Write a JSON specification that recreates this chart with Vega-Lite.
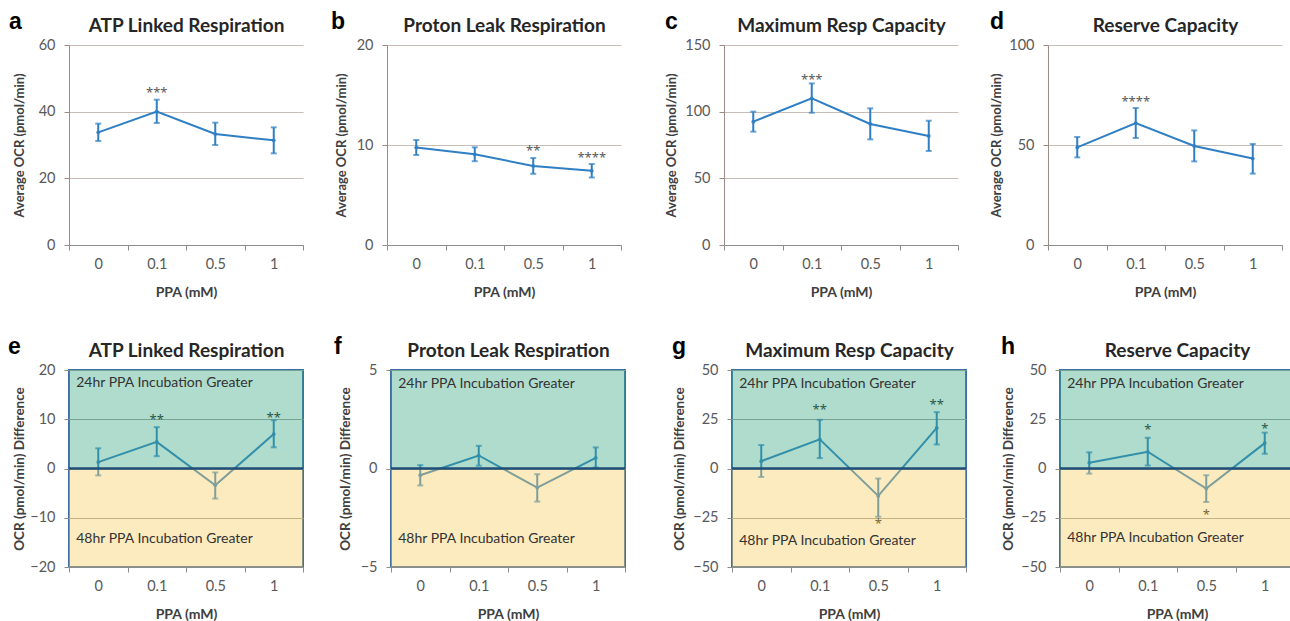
{
"$schema": "https://vega.github.io/schema/vega-lite/v6.json",
"padding": {"left": 7, "top": 11, "right": 0, "bottom": 0},
"background": "white",
"config": {
 "font": "Lato",
 "view": {"stroke": null},
 "title": {"font": "Liberation Sans", "fontSize": 23, "fontWeight": "bold", "color": "#000000"},
 "axis": {"labelFont": "Lato", "titleFont": "Lato", "labelFontSize": 14.5, "labelColor": "#595959", "titleFontSize": 13, "titleFontWeight": "bold", "titleColor": "#404040", "tickColor": "#8c8c8c", "domainColor": "#8c8c8c", "tickSize": 5},
 "axisY": {"labelPadding": 9, "titlePadding": 14, "gridColor": "#c9bdb7"},
 "axisX": {"labelAngle": 0, "grid": false}
},
"datasets": {
 "a": [{"ppa":"0","mean":33.8,"lo":31.2,"hi":36.4},{"ppa":"0.1","mean":40.0,"lo":36.6,"hi":43.6,"sig":"***","sigY":46.5},{"ppa":"0.5","mean":33.3,"lo":30.0,"hi":36.7},{"ppa":"1","mean":31.4,"lo":27.5,"hi":35.3}],
 "b": [{"ppa":"0","mean":9.75,"lo":9.0,"hi":10.5},{"ppa":"0.1","mean":9.07,"lo":8.38,"hi":9.77},{"ppa":"0.5","mean":7.9,"lo":7.12,"hi":8.7,"sig":"**","sigY":9.67},{"ppa":"1","mean":7.42,"lo":6.75,"hi":8.1,"sig":"****","sigY":9.0}],
 "c": [{"ppa":"0","mean":92.5,"lo":85,"hi":100},{"ppa":"0.1","mean":110,"lo":99.2,"hi":121.2,"sig":"***","sigY":125.8},{"ppa":"0.5","mean":90.8,"lo":79.2,"hi":102.5},{"ppa":"1","mean":81.8,"lo":70.5,"hi":93.2}],
 "d": [{"ppa":"0","mean":48.8,"lo":43.8,"hi":54},{"ppa":"0.1","mean":61,"lo":53.5,"hi":68.5,"sig":"****","sigY":72.8},{"ppa":"0.5","mean":49.5,"lo":41.8,"hi":57.3},{"ppa":"1","mean":43.2,"lo":35.7,"hi":50.5}],
 "e": [{"ppa":"0","mean":1.3,"lo":-1.4,"hi":4.1},{"ppa":"0.1","mean":5.4,"lo":2.5,"hi":8.4,"sig":"**","sigY":10.4},{"ppa":"0.5","mean":-3.4,"lo":-6.1,"hi":-0.8},{"ppa":"1","mean":7.0,"lo":4.3,"hi":9.8,"sig":"**","sigY":10.9}],
 "f": [{"ppa":"0","mean":-0.34,"lo":-0.86,"hi":0.17},{"ppa":"0.1","mean":0.66,"lo":0.14,"hi":1.15},{"ppa":"0.5","mean":-0.97,"lo":-1.68,"hi":-0.29},{"ppa":"1","mean":0.54,"lo":0.05,"hi":1.07}],
 "g": [{"ppa":"0","mean":3.7,"lo":-4.3,"hi":11.9},{"ppa":"0.1","mean":14.8,"lo":5.3,"hi":24.7,"sig":"**","sigY":31.1},{"ppa":"0.5","mean":-13.9,"lo":-24.5,"hi":-5.1,"sig":"*","sigY":-26.6},{"ppa":"1","mean":20.6,"lo":12.2,"hi":28.6,"sig":"**","sigY":33.7}],
 "h": [{"ppa":"0","mean":2.9,"lo":-2.6,"hi":8.2},{"ppa":"0.1","mean":8.5,"lo":1.5,"hi":15.6,"sig":"*","sigY":20.9},{"ppa":"0.5","mean":-10.2,"lo":-17,"hi":-3.4,"sig":"*","sigY":-22},{"ppa":"1","mean":12.9,"lo":7.5,"hi":18.2,"sig":"*","sigY":21.4}]
},
"spacing": 35,
"vconcat": [
{"spacing": 43, "hconcat": [
{"spacing": 27, "hconcat": [
 {"width": 234, "height": 200, "data": {"name": "a"},
  "title": {"text": "a", "anchor": "start", "frame": "bounds", "offset": -18, "dx": -4},
  "resolve": {"axis": {"x": "independent"}},
  "layer": [
   {"mark": {"type": "rule", "color": "#2f7fc4", "strokeWidth": 2},
    "encoding": {
     "x": {"field": "ppa", "type": "ordinal", "bandPosition": 0.5, "scale": {"type": "band", "domain": ["0","0.1","0.5","1"], "paddingInner": 0, "paddingOuter": 0}, "axis": {"orient": "top", "title": "ATP Linked Respiration", "labels": false, "ticks": false, "domain": false, "grid": false, "titleFontSize": 19, "titleFontWeight": "bold", "titleColor": "#262626", "titlePadding": 10}},
     "y": {"field": "lo", "type": "quantitative", "title": "Average OCR (pmol/min)", "scale": {"domain": [0,60], "nice": false, "zero": false}, "axis": {"values": [0,20,40,60], "minExtent": 29, "maxExtent": 29, "grid": true, "domainColor": "#9c8a84", "tickColor": "#9c8a84"}},
     "y2": {"field": "hi"}}},
   {"mark": {"type": "tick", "color": "#2f7fc4", "size": 6, "thickness": 2}, "encoding": {"x": {"field": "ppa", "type": "ordinal", "axis": null}, "y": {"field": "lo", "type": "quantitative", "title": "Average OCR (pmol/min)"}}},
   {"mark": {"type": "tick", "color": "#2f7fc4", "size": 6, "thickness": 2}, "encoding": {"x": {"field": "ppa", "type": "ordinal", "axis": null}, "y": {"field": "hi", "type": "quantitative", "title": "Average OCR (pmol/min)"}}},
   {"mark": {"type": "line", "color": "#2f7fc4", "strokeWidth": 2, "point": {"filled": true, "size": 14, "color": "#2f7fc4"}},
    "encoding": {"x": {"field": "ppa", "type": "ordinal", "bandPosition": 0.5, "axis": {"title": "PPA (mM)", "tickBand": "extent", "labelPadding": 7, "titlePadding": 15, "titleFontSize": 14}}, "y": {"field": "mean", "type": "quantitative", "title": "Average OCR (pmol/min)"}}},
   {"transform": [{"filter": "datum.sig"}], "mark": {"type": "text", "font": "Noto Sans", "fontSize": 13, "color": "#595959", "baseline": "middle", "dy": 3},
    "encoding": {"x": {"field": "ppa", "type": "ordinal", "bandPosition": 0.5, "axis": null}, "y": {"field": "sigY", "type": "quantitative", "title": "Average OCR (pmol/min)"}, "text": {"field": "sig"}}}
  ]},
 {"width": 234, "height": 200, "data": {"name": "b"},
  "title": {"text": "b", "anchor": "start", "frame": "bounds", "offset": -18, "dx": -4},
  "resolve": {"axis": {"x": "independent"}},
  "layer": [
   {"mark": {"type": "rule", "color": "#2f7fc4", "strokeWidth": 2},
    "encoding": {
     "x": {"field": "ppa", "type": "ordinal", "bandPosition": 0.5, "scale": {"type": "band", "domain": ["0","0.1","0.5","1"], "paddingInner": 0, "paddingOuter": 0}, "axis": {"orient": "top", "title": "Proton Leak Respiration", "labels": false, "ticks": false, "domain": false, "grid": false, "titleFontSize": 19, "titleFontWeight": "bold", "titleColor": "#262626", "titlePadding": 10}},
     "y": {"field": "lo", "type": "quantitative", "title": "Average OCR (pmol/min)", "scale": {"domain": [0,20], "nice": false, "zero": false}, "axis": {"values": [0,10,20], "minExtent": 25, "maxExtent": 25, "grid": true, "domainColor": "#9c8a84", "tickColor": "#9c8a84"}},
     "y2": {"field": "hi"}}},
   {"mark": {"type": "tick", "color": "#2f7fc4", "size": 6, "thickness": 2}, "encoding": {"x": {"field": "ppa", "type": "ordinal", "axis": null}, "y": {"field": "lo", "type": "quantitative", "title": "Average OCR (pmol/min)"}}},
   {"mark": {"type": "tick", "color": "#2f7fc4", "size": 6, "thickness": 2}, "encoding": {"x": {"field": "ppa", "type": "ordinal", "axis": null}, "y": {"field": "hi", "type": "quantitative", "title": "Average OCR (pmol/min)"}}},
   {"mark": {"type": "line", "color": "#2f7fc4", "strokeWidth": 2, "point": {"filled": true, "size": 14, "color": "#2f7fc4"}},
    "encoding": {"x": {"field": "ppa", "type": "ordinal", "bandPosition": 0.5, "axis": {"title": "PPA (mM)", "tickBand": "extent", "labelPadding": 7, "titlePadding": 15, "titleFontSize": 14}}, "y": {"field": "mean", "type": "quantitative", "title": "Average OCR (pmol/min)"}}},
   {"transform": [{"filter": "datum.sig"}], "mark": {"type": "text", "font": "Noto Sans", "fontSize": 13, "color": "#595959", "baseline": "middle", "dy": 3},
    "encoding": {"x": {"field": "ppa", "type": "ordinal", "bandPosition": 0.5, "axis": null}, "y": {"field": "sigY", "type": "quantitative", "title": "Average OCR (pmol/min)"}, "text": {"field": "sig"}}}
  ]}
]},
{"spacing": 31, "hconcat": [
 {"width": 234, "height": 200, "data": {"name": "c"},
  "title": {"text": "c", "anchor": "start", "frame": "bounds", "offset": -18},
  "resolve": {"axis": {"x": "independent"}},
  "layer": [
   {"mark": {"type": "rule", "color": "#2f7fc4", "strokeWidth": 2},
    "encoding": {
     "x": {"field": "ppa", "type": "ordinal", "bandPosition": 0.5, "scale": {"type": "band", "domain": ["0","0.1","0.5","1"], "paddingInner": 0, "paddingOuter": 0}, "axis": {"orient": "top", "title": "Maximum Resp Capacity", "labels": false, "ticks": false, "domain": false, "grid": false, "titleFontSize": 19, "titleFontWeight": "bold", "titleColor": "#262626", "titlePadding": 10}},
     "y": {"field": "lo", "type": "quantitative", "title": "Average OCR (pmol/min)", "scale": {"domain": [0,150], "nice": false, "zero": false}, "axis": {"values": [0,50,100,150], "minExtent": 32, "maxExtent": 32, "grid": true, "domainColor": "#9c8a84", "tickColor": "#9c8a84"}},
     "y2": {"field": "hi"}}},
   {"mark": {"type": "tick", "color": "#2f7fc4", "size": 6, "thickness": 2}, "encoding": {"x": {"field": "ppa", "type": "ordinal", "axis": null}, "y": {"field": "lo", "type": "quantitative", "title": "Average OCR (pmol/min)"}}},
   {"mark": {"type": "tick", "color": "#2f7fc4", "size": 6, "thickness": 2}, "encoding": {"x": {"field": "ppa", "type": "ordinal", "axis": null}, "y": {"field": "hi", "type": "quantitative", "title": "Average OCR (pmol/min)"}}},
   {"mark": {"type": "line", "color": "#2f7fc4", "strokeWidth": 2, "point": {"filled": true, "size": 14, "color": "#2f7fc4"}},
    "encoding": {"x": {"field": "ppa", "type": "ordinal", "bandPosition": 0.5, "axis": {"title": "PPA (mM)", "tickBand": "extent", "labelPadding": 7, "titlePadding": 15, "titleFontSize": 14}}, "y": {"field": "mean", "type": "quantitative", "title": "Average OCR (pmol/min)"}}},
   {"transform": [{"filter": "datum.sig"}], "mark": {"type": "text", "font": "Noto Sans", "fontSize": 13, "color": "#595959", "baseline": "middle", "dy": 3},
    "encoding": {"x": {"field": "ppa", "type": "ordinal", "bandPosition": 0.5, "axis": null}, "y": {"field": "sigY", "type": "quantitative", "title": "Average OCR (pmol/min)"}, "text": {"field": "sig"}}}
  ]},
 {"width": 234, "height": 200, "data": {"name": "d"},
  "title": {"text": "d", "anchor": "start", "frame": "bounds", "offset": -18},
  "resolve": {"axis": {"x": "independent"}},
  "layer": [
   {"mark": {"type": "rule", "color": "#2f7fc4", "strokeWidth": 2},
    "encoding": {
     "x": {"field": "ppa", "type": "ordinal", "bandPosition": 0.5, "scale": {"type": "band", "domain": ["0","0.1","0.5","1"], "paddingInner": 0, "paddingOuter": 0}, "axis": {"orient": "top", "title": "Reserve Capacity", "labels": false, "ticks": false, "domain": false, "grid": false, "titleFontSize": 19, "titleFontWeight": "bold", "titleColor": "#262626", "titlePadding": 10}},
     "y": {"field": "lo", "type": "quantitative", "title": "Average OCR (pmol/min)", "scale": {"domain": [0,100], "nice": false, "zero": false}, "axis": {"values": [0,50,100], "minExtent": 31, "maxExtent": 31, "grid": true, "domainColor": "#9c8a84", "tickColor": "#9c8a84"}},
     "y2": {"field": "hi"}}},
   {"mark": {"type": "tick", "color": "#2f7fc4", "size": 6, "thickness": 2}, "encoding": {"x": {"field": "ppa", "type": "ordinal", "axis": null}, "y": {"field": "lo", "type": "quantitative", "title": "Average OCR (pmol/min)"}}},
   {"mark": {"type": "tick", "color": "#2f7fc4", "size": 6, "thickness": 2}, "encoding": {"x": {"field": "ppa", "type": "ordinal", "axis": null}, "y": {"field": "hi", "type": "quantitative", "title": "Average OCR (pmol/min)"}}},
   {"mark": {"type": "line", "color": "#2f7fc4", "strokeWidth": 2, "point": {"filled": true, "size": 14, "color": "#2f7fc4"}},
    "encoding": {"x": {"field": "ppa", "type": "ordinal", "bandPosition": 0.5, "axis": {"title": "PPA (mM)", "tickBand": "extent", "labelPadding": 7, "titlePadding": 15, "titleFontSize": 14}}, "y": {"field": "mean", "type": "quantitative", "title": "Average OCR (pmol/min)"}}},
   {"transform": [{"filter": "datum.sig"}], "mark": {"type": "text", "font": "Noto Sans", "fontSize": 13, "color": "#595959", "baseline": "middle", "dy": 3},
    "encoding": {"x": {"field": "ppa", "type": "ordinal", "bandPosition": 0.5, "axis": null}, "y": {"field": "sigY", "type": "quantitative", "title": "Average OCR (pmol/min)"}, "text": {"field": "sig"}}}
  ]}
]}
]},
{"spacing": 43, "hconcat": [
{"spacing": 27, "hconcat": [
 {"width": 234, "height": 197, "data": {"name": "e"},
  "title": {"text": "e", "anchor": "start", "frame": "bounds", "offset": -18, "dx": -4},
  "view": {"stroke": "#3d6fa6", "strokeWidth": 2},
  "resolve": {"axis": {"x": "independent"}},
  "layer": [
   {"mark": {"type": "rule", "color": "#2f7fc4", "strokeWidth": 2},
    "encoding": {
     "x": {"field": "ppa", "type": "ordinal", "bandPosition": 0.5, "scale": {"type": "band", "domain": ["0","0.1","0.5","1"], "paddingInner": 0, "paddingOuter": 0}, "axis": {"orient": "top", "title": "ATP Linked Respiration", "labels": false, "ticks": false, "domain": false, "grid": false, "titleFontSize": 19, "titleFontWeight": "bold", "titleColor": "#262626", "titlePadding": 10}},
     "y": {"field": "lo", "type": "quantitative", "title": "OCR (pmol/min) Difference", "scale": {"domain": [-20,20], "nice": false, "zero": false}, "axis": {"values": [-20,-10,0,10,20], "minExtent": 29, "maxExtent": 29, "grid": true, "gridColor": "#a0a0a0", "domain": false, "titleFontSize": 13.5}},
     "y2": {"field": "hi"}}},
   {"mark": {"type": "tick", "color": "#2f7fc4", "size": 6, "thickness": 2}, "encoding": {"x": {"field": "ppa", "type": "ordinal", "axis": null}, "y": {"field": "lo", "type": "quantitative", "title": "OCR (pmol/min) Difference"}}},
   {"mark": {"type": "tick", "color": "#2f7fc4", "size": 6, "thickness": 2}, "encoding": {"x": {"field": "ppa", "type": "ordinal", "axis": null}, "y": {"field": "hi", "type": "quantitative", "title": "OCR (pmol/min) Difference"}}},
   {"mark": {"type": "line", "color": "#2f7fc4", "strokeWidth": 2, "point": {"filled": true, "size": 14, "color": "#2f7fc4"}},
    "encoding": {"x": {"field": "ppa", "type": "ordinal", "bandPosition": 0.5, "axis": {"title": "PPA (mM)", "tickBand": "extent", "labelPadding": 7, "titlePadding": 15, "titleFontSize": 14}}, "y": {"field": "mean", "type": "quantitative", "title": "OCR (pmol/min) Difference"}}},
   {"transform": [{"filter": "datum.sig"}], "mark": {"type": "text", "font": "Noto Sans", "fontSize": 13, "color": "#1a1a1a", "baseline": "middle", "dy": 3},
    "encoding": {"x": {"field": "ppa", "type": "ordinal", "bandPosition": 0.5, "axis": null}, "y": {"field": "sigY", "type": "quantitative", "title": "OCR (pmol/min) Difference"}, "text": {"field": "sig"}}},
   {"data": {"values": [{}]}, "mark": {"type": "rect", "color": "#37a782", "opacity": 0.4}, "encoding": {"x": {"value": 0}, "x2": {"value": "width"}, "y": {"datum": 0, "type": "quantitative"}, "y2": {"datum": 20}}},
   {"data": {"values": [{}]}, "mark": {"type": "rect", "color": "#f7cd5c", "opacity": 0.4}, "encoding": {"x": {"value": 0}, "x2": {"value": "width"}, "y": {"datum": -20, "type": "quantitative"}, "y2": {"datum": 0}}},
   {"data": {"values": [{}]}, "mark": {"type": "rule", "color": "#1f4e79", "strokeWidth": 2.5}, "encoding": {"y": {"datum": 0, "type": "quantitative"}}},
   {"data": {"values": [{}]}, "mark": {"type": "text", "align": "left", "baseline": "middle", "fontSize": 14, "color": "#333333", "dx": -22}, "encoding": {"x": {"datum": "0", "type": "ordinal", "bandPosition": 0.5, "axis": null}, "y": {"datum": 17.3, "type": "quantitative"}, "text": {"value": "24hr PPA Incubation Greater"}}},
   {"data": {"values": [{}]}, "mark": {"type": "text", "align": "left", "baseline": "middle", "fontSize": 14, "color": "#333333", "dx": -22}, "encoding": {"x": {"datum": "0", "type": "ordinal", "bandPosition": 0.5, "axis": null}, "y": {"datum": -14.4, "type": "quantitative"}, "text": {"value": "48hr PPA Incubation Greater"}}}
  ]},
 {"width": 234, "height": 197, "data": {"name": "f"},
  "title": {"text": "f", "anchor": "start", "frame": "bounds", "offset": -18, "dx": -4},
  "view": {"stroke": "#3d6fa6", "strokeWidth": 2},
  "resolve": {"axis": {"x": "independent"}},
  "layer": [
   {"mark": {"type": "rule", "color": "#2f7fc4", "strokeWidth": 2},
    "encoding": {
     "x": {"field": "ppa", "type": "ordinal", "bandPosition": 0.5, "scale": {"type": "band", "domain": ["0","0.1","0.5","1"], "paddingInner": 0, "paddingOuter": 0}, "axis": {"orient": "top", "title": "Proton Leak Respiration", "labels": false, "ticks": false, "domain": false, "grid": false, "titleFontSize": 19, "titleFontWeight": "bold", "titleColor": "#262626", "titlePadding": 10}},
     "y": {"field": "lo", "type": "quantitative", "title": "OCR (pmol/min) Difference", "scale": {"domain": [-5,5], "nice": false, "zero": false}, "axis": {"values": [-5,0,5], "minExtent": 25, "maxExtent": 25, "grid": true, "gridColor": "#a0a0a0", "domain": false, "titleFontSize": 13.5}},
     "y2": {"field": "hi"}}},
   {"mark": {"type": "tick", "color": "#2f7fc4", "size": 6, "thickness": 2}, "encoding": {"x": {"field": "ppa", "type": "ordinal", "axis": null}, "y": {"field": "lo", "type": "quantitative", "title": "OCR (pmol/min) Difference"}}},
   {"mark": {"type": "tick", "color": "#2f7fc4", "size": 6, "thickness": 2}, "encoding": {"x": {"field": "ppa", "type": "ordinal", "axis": null}, "y": {"field": "hi", "type": "quantitative", "title": "OCR (pmol/min) Difference"}}},
   {"mark": {"type": "line", "color": "#2f7fc4", "strokeWidth": 2, "point": {"filled": true, "size": 14, "color": "#2f7fc4"}},
    "encoding": {"x": {"field": "ppa", "type": "ordinal", "bandPosition": 0.5, "axis": {"title": "PPA (mM)", "tickBand": "extent", "labelPadding": 7, "titlePadding": 15, "titleFontSize": 14}}, "y": {"field": "mean", "type": "quantitative", "title": "OCR (pmol/min) Difference"}}},
   {"data": {"values": [{}]}, "mark": {"type": "rect", "color": "#37a782", "opacity": 0.4}, "encoding": {"x": {"value": 0}, "x2": {"value": "width"}, "y": {"datum": 0, "type": "quantitative"}, "y2": {"datum": 5}}},
   {"data": {"values": [{}]}, "mark": {"type": "rect", "color": "#f7cd5c", "opacity": 0.4}, "encoding": {"x": {"value": 0}, "x2": {"value": "width"}, "y": {"datum": -5, "type": "quantitative"}, "y2": {"datum": 0}}},
   {"data": {"values": [{}]}, "mark": {"type": "rule", "color": "#1f4e79", "strokeWidth": 2.5}, "encoding": {"y": {"datum": 0, "type": "quantitative"}}},
   {"data": {"values": [{}]}, "mark": {"type": "text", "align": "left", "baseline": "middle", "fontSize": 14, "color": "#333333", "dx": -22}, "encoding": {"x": {"datum": "0", "type": "ordinal", "bandPosition": 0.5, "axis": null}, "y": {"datum": 4.3, "type": "quantitative"}, "text": {"value": "24hr PPA Incubation Greater"}}},
   {"data": {"values": [{}]}, "mark": {"type": "text", "align": "left", "baseline": "middle", "fontSize": 14, "color": "#333333", "dx": -22}, "encoding": {"x": {"datum": "0", "type": "ordinal", "bandPosition": 0.5, "axis": null}, "y": {"datum": -3.56, "type": "quantitative"}, "text": {"value": "48hr PPA Incubation Greater"}}}
  ]}
]},
{"spacing": 31, "hconcat": [
 {"width": 234, "height": 197, "data": {"name": "g"},
  "title": {"text": "g", "anchor": "start", "frame": "bounds", "offset": -18},
  "view": {"stroke": "#3d6fa6", "strokeWidth": 2},
  "resolve": {"axis": {"x": "independent"}},
  "layer": [
   {"mark": {"type": "rule", "color": "#2f7fc4", "strokeWidth": 2},
    "encoding": {
     "x": {"field": "ppa", "type": "ordinal", "bandPosition": 0.5, "scale": {"type": "band", "domain": ["0","0.1","0.5","1"], "paddingInner": 0, "paddingOuter": 0}, "axis": {"orient": "top", "title": "Maximum Resp Capacity", "labels": false, "ticks": false, "domain": false, "grid": false, "titleFontSize": 19, "titleFontWeight": "bold", "titleColor": "#262626", "titlePadding": 10}},
     "y": {"field": "lo", "type": "quantitative", "title": "OCR (pmol/min) Difference", "scale": {"domain": [-50,50], "nice": false, "zero": false}, "axis": {"values": [-50,-25,0,25,50], "minExtent": 32, "maxExtent": 32, "grid": true, "gridColor": "#a0a0a0", "domain": false, "titleFontSize": 13.5}},
     "y2": {"field": "hi"}}},
   {"mark": {"type": "tick", "color": "#2f7fc4", "size": 6, "thickness": 2}, "encoding": {"x": {"field": "ppa", "type": "ordinal", "axis": null}, "y": {"field": "lo", "type": "quantitative", "title": "OCR (pmol/min) Difference"}}},
   {"mark": {"type": "tick", "color": "#2f7fc4", "size": 6, "thickness": 2}, "encoding": {"x": {"field": "ppa", "type": "ordinal", "axis": null}, "y": {"field": "hi", "type": "quantitative", "title": "OCR (pmol/min) Difference"}}},
   {"mark": {"type": "line", "color": "#2f7fc4", "strokeWidth": 2, "point": {"filled": true, "size": 14, "color": "#2f7fc4"}},
    "encoding": {"x": {"field": "ppa", "type": "ordinal", "bandPosition": 0.5, "axis": {"title": "PPA (mM)", "tickBand": "extent", "labelPadding": 7, "titlePadding": 15, "titleFontSize": 14}}, "y": {"field": "mean", "type": "quantitative", "title": "OCR (pmol/min) Difference"}}},
   {"transform": [{"filter": "datum.sig"}], "mark": {"type": "text", "font": "Noto Sans", "fontSize": 13, "color": "#1a1a1a", "baseline": "middle", "dy": 3},
    "encoding": {"x": {"field": "ppa", "type": "ordinal", "bandPosition": 0.5, "axis": null}, "y": {"field": "sigY", "type": "quantitative", "title": "OCR (pmol/min) Difference"}, "text": {"field": "sig"}}},
   {"data": {"values": [{}]}, "mark": {"type": "rect", "color": "#37a782", "opacity": 0.4}, "encoding": {"x": {"value": 0}, "x2": {"value": "width"}, "y": {"datum": 0, "type": "quantitative"}, "y2": {"datum": 50}}},
   {"data": {"values": [{}]}, "mark": {"type": "rect", "color": "#f7cd5c", "opacity": 0.4}, "encoding": {"x": {"value": 0}, "x2": {"value": "width"}, "y": {"datum": -50, "type": "quantitative"}, "y2": {"datum": 0}}},
   {"data": {"values": [{}]}, "mark": {"type": "rule", "color": "#1f4e79", "strokeWidth": 2.5}, "encoding": {"y": {"datum": 0, "type": "quantitative"}}},
   {"data": {"values": [{}]}, "mark": {"type": "text", "align": "left", "baseline": "middle", "fontSize": 14, "color": "#333333", "dx": -22}, "encoding": {"x": {"datum": "0", "type": "ordinal", "bandPosition": 0.5, "axis": null}, "y": {"datum": 43, "type": "quantitative"}, "text": {"value": "24hr PPA Incubation Greater"}}},
   {"data": {"values": [{}]}, "mark": {"type": "text", "align": "left", "baseline": "middle", "fontSize": 14, "color": "#333333", "dx": -22}, "encoding": {"x": {"datum": "0", "type": "ordinal", "bandPosition": 0.5, "axis": null}, "y": {"datum": -36.6, "type": "quantitative"}, "text": {"value": "48hr PPA Incubation Greater"}}}
  ]},
 {"width": 234, "height": 197, "data": {"name": "h"},
  "title": {"text": "h", "anchor": "start", "frame": "bounds", "offset": -18},
  "view": {"stroke": "#3d6fa6", "strokeWidth": 2},
  "resolve": {"axis": {"x": "independent"}},
  "layer": [
   {"mark": {"type": "rule", "color": "#2f7fc4", "strokeWidth": 2},
    "encoding": {
     "x": {"field": "ppa", "type": "ordinal", "bandPosition": 0.5, "scale": {"type": "band", "domain": ["0","0.1","0.5","1"], "paddingInner": 0, "paddingOuter": 0}, "axis": {"orient": "top", "title": "Reserve Capacity", "labels": false, "ticks": false, "domain": false, "grid": false, "titleFontSize": 19, "titleFontWeight": "bold", "titleColor": "#262626", "titlePadding": 10}},
     "y": {"field": "lo", "type": "quantitative", "title": "OCR (pmol/min) Difference", "scale": {"domain": [-50,50], "nice": false, "zero": false}, "axis": {"values": [-50,-25,0,25,50], "minExtent": 31, "maxExtent": 31, "grid": true, "gridColor": "#a0a0a0", "domain": false, "titleFontSize": 13.5}},
     "y2": {"field": "hi"}}},
   {"mark": {"type": "tick", "color": "#2f7fc4", "size": 6, "thickness": 2}, "encoding": {"x": {"field": "ppa", "type": "ordinal", "axis": null}, "y": {"field": "lo", "type": "quantitative", "title": "OCR (pmol/min) Difference"}}},
   {"mark": {"type": "tick", "color": "#2f7fc4", "size": 6, "thickness": 2}, "encoding": {"x": {"field": "ppa", "type": "ordinal", "axis": null}, "y": {"field": "hi", "type": "quantitative", "title": "OCR (pmol/min) Difference"}}},
   {"mark": {"type": "line", "color": "#2f7fc4", "strokeWidth": 2, "point": {"filled": true, "size": 14, "color": "#2f7fc4"}},
    "encoding": {"x": {"field": "ppa", "type": "ordinal", "bandPosition": 0.5, "axis": {"title": "PPA (mM)", "tickBand": "extent", "labelPadding": 7, "titlePadding": 15, "titleFontSize": 14}}, "y": {"field": "mean", "type": "quantitative", "title": "OCR (pmol/min) Difference"}}},
   {"transform": [{"filter": "datum.sig"}], "mark": {"type": "text", "font": "Noto Sans", "fontSize": 13, "color": "#1a1a1a", "baseline": "middle", "dy": 3},
    "encoding": {"x": {"field": "ppa", "type": "ordinal", "bandPosition": 0.5, "axis": null}, "y": {"field": "sigY", "type": "quantitative", "title": "OCR (pmol/min) Difference"}, "text": {"field": "sig"}}},
   {"data": {"values": [{}]}, "mark": {"type": "rect", "color": "#37a782", "opacity": 0.4}, "encoding": {"x": {"value": 0}, "x2": {"value": "width"}, "y": {"datum": 0, "type": "quantitative"}, "y2": {"datum": 50}}},
   {"data": {"values": [{}]}, "mark": {"type": "rect", "color": "#f7cd5c", "opacity": 0.4}, "encoding": {"x": {"value": 0}, "x2": {"value": "width"}, "y": {"datum": -50, "type": "quantitative"}, "y2": {"datum": 0}}},
   {"data": {"values": [{}]}, "mark": {"type": "rule", "color": "#1f4e79", "strokeWidth": 2.5}, "encoding": {"y": {"datum": 0, "type": "quantitative"}}},
   {"data": {"values": [{}]}, "mark": {"type": "text", "align": "left", "baseline": "middle", "fontSize": 14, "color": "#333333", "dx": -22}, "encoding": {"x": {"datum": "0", "type": "ordinal", "bandPosition": 0.5, "axis": null}, "y": {"datum": 43, "type": "quantitative"}, "text": {"value": "24hr PPA Incubation Greater"}}},
   {"data": {"values": [{}]}, "mark": {"type": "text", "align": "left", "baseline": "middle", "fontSize": 14, "color": "#333333", "dx": -22}, "encoding": {"x": {"datum": "0", "type": "ordinal", "bandPosition": 0.5, "axis": null}, "y": {"datum": -35.2, "type": "quantitative"}, "text": {"value": "48hr PPA Incubation Greater"}}}
  ]}
]}
]}
]
}
